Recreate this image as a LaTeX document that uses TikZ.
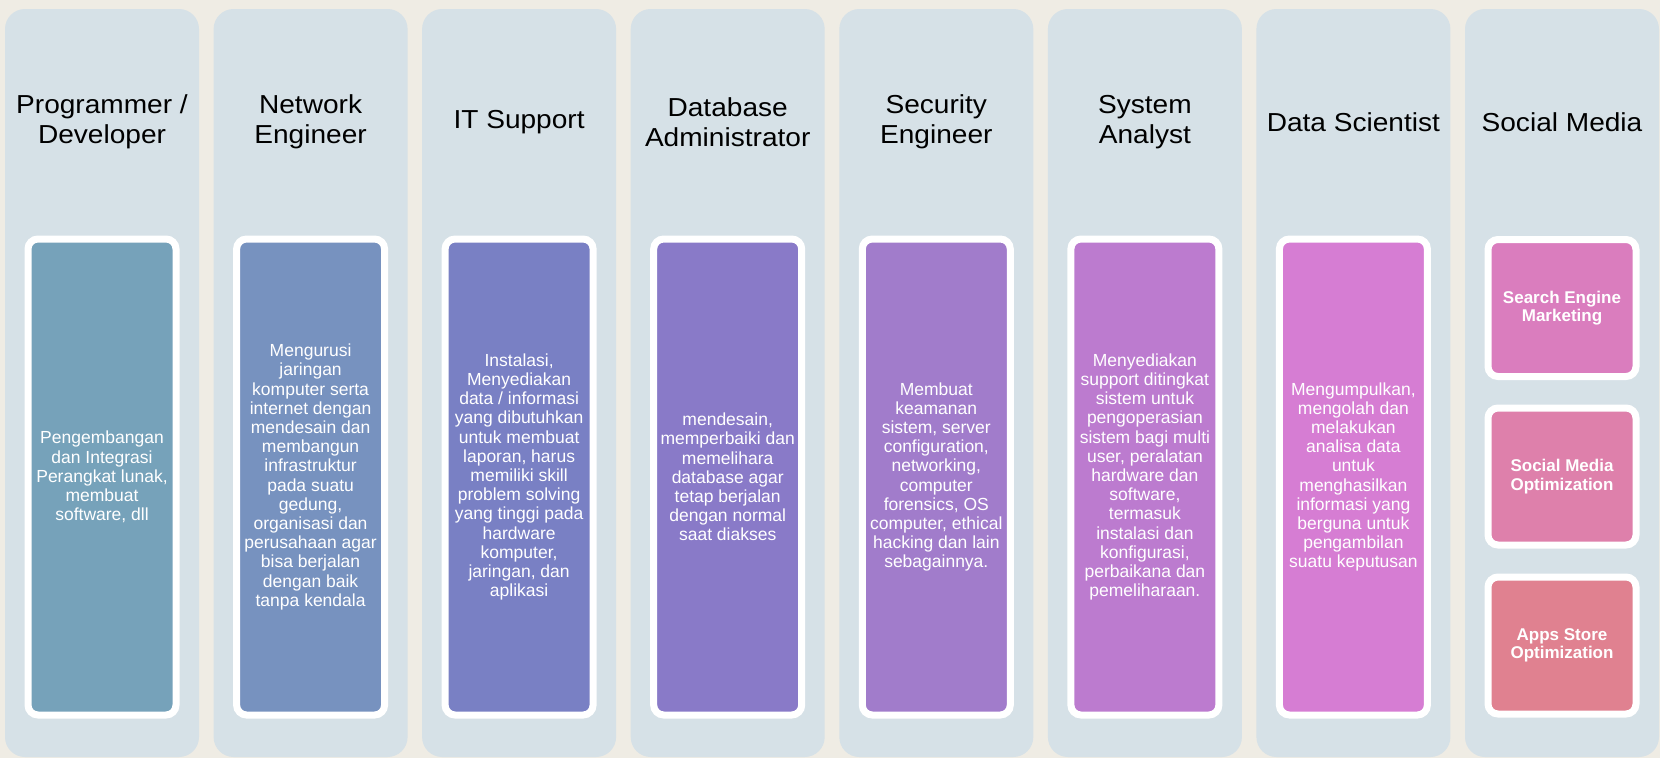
\documentclass[tikz,border=0pt]{standalone}
\usepackage{fontspec}
\setmainfont{Liberation Sans}
\newfontfamily\titlefont[FakeStretch=1.08]{Liberation Sans}
\definecolor{cream}{HTML}{EFECE4}
\definecolor{lane}{HTML}{D6E1E7}
\definecolor{jobA}{HTML}{76A2BA}
\definecolor{jobB}{HTML}{7792BF}
\definecolor{jobC}{HTML}{7980C4}
\definecolor{jobD}{HTML}{897AC8}
\definecolor{jobE}{HTML}{A17CCB}
\definecolor{jobF}{HTML}{BC7BCF}
\definecolor{jobG}{HTML}{D67DD3}
\definecolor{smA}{HTML}{DA7DBE}
\definecolor{smB}{HTML}{DE80AB}
\definecolor{smC}{HTML}{E08190}
\begin{document}
\begin{tikzpicture}[x=1pt, y=-1pt]
\tikzstyle{lanebox}=[rounded corners=20pt, fill=lane, minimum width=194pt, minimum height=748pt, inner sep=0pt]
\tikzstyle{title}=[align=center, inner sep=0pt, font=\titlefont\fontsize{26}{30.5}\selectfont]
\tikzstyle{job}=[draw=white, line width=7pt, rounded corners=10pt, minimum width=148pt, minimum height=476pt, inner sep=0pt, align=center, text=white, font=\fontsize{17.5}{19.2}\selectfont]
\tikzstyle{smbox}=[job, minimum height=137pt, font=\bfseries\fontsize{17}{18.5}\selectfont]

\fill[cream] (0,0) rectangle (1660,758);
\useasboundingbox (0,0) rectangle (1660,758);

% lanes
\node[lanebox] (lane1) at (102,383) {};
\node[lanebox] (lane2) at (310.6,383) {};
\node[lanebox] (lane3) at (519.1,383) {};
\node[lanebox] (lane4) at (727.7,383) {};
\node[lanebox] (lane5) at (936.3,383) {};
\node[lanebox] (lane6) at (1144.9,383) {};
\node[lanebox] (lane7) at (1353.4,383) {};
\node[lanebox] (lane8) at (1562,383) {};

% titles
\node[title] (prog) at (102,122) {Programmer /\\Developer};
\node[title] (net) at (310.6,122) {Network\\Engineer};
\node[title] (its) at (519.1,122) {IT Support};
\node[title] (dba) at (727.7,122) {Database\\Administrator};
\node[title] (sec) at (936.3,122) {Security\\Engineer};
\node[title] (sa) at (1144.9,122) {System\\Analyst};
\node[title] (ds) at (1353.4,122) {Data Scientist};
\node[title] (sm) at (1562,122) {Social Media};

% descriptions
\node[job, fill=jobA] (progtxt) at (102,477) {Pengembangan\\dan Integrasi\\Perangkat lunak,\\membuat\\software, dll};
\node[job, fill=jobB] (nettxt) at (310.6,477) {Mengurusi\\jaringan\\komputer serta\\internet dengan\\mendesain dan\\membangun\\infrastruktur\\pada suatu\\gedung,\\organisasi dan\\perusahaan agar\\bisa berjalan\\dengan baik\\tanpa kendala};
\node[job, fill=jobC] (itstxt) at (519.1,477) {Instalasi,\\Menyediakan\\data / informasi\\yang dibutuhkan\\untuk membuat\\laporan, harus\\memiliki skill\\problem solving\\yang tinggi pada\\hardware\\komputer,\\jaringan, dan\\aplikasi};
\node[job, fill=jobD] (dbatxt) at (727.7,477) {mendesain,\\memperbaiki dan\\memelihara\\database agar\\tetap berjalan\\dengan normal\\saat diakses};
\node[job, fill=jobE] (sectxt) at (936.3,477) {Membuat\\keamanan\\sistem, server\\configuration,\\networking,\\computer\\forensics, OS\\computer, ethical\\hacking dan lain\\sebagainnya.};
\node[job, fill=jobF] (satxt) at (1144.9,477) {Menyediakan\\support ditingkat\\sistem untuk\\pengoperasian\\sistem bagi multi\\user, peralatan\\hardware dan\\software,\\termasuk\\instalasi dan\\konfigurasi,\\perbaikana dan\\pemeliharaan.};
\node[job, fill=jobG] (dstxt) at (1353.4,477) {Mengumpulkan,\\mengolah dan\\melakukan\\analisa data\\untuk\\menghasilkan\\informasi yang\\berguna untuk\\pengambilan\\suatu keputusan};

% social media items
\node[smbox, fill=smA] (sem) at (1562,308) {Search Engine\\Marketing};
\node[smbox, fill=smB] (smo) at (1562,476.5) {Social Media\\Optimization};
\node[smbox, fill=smC] (aso) at (1562,645.5) {Apps Store\\Optimization};
\end{tikzpicture}
\end{document}
